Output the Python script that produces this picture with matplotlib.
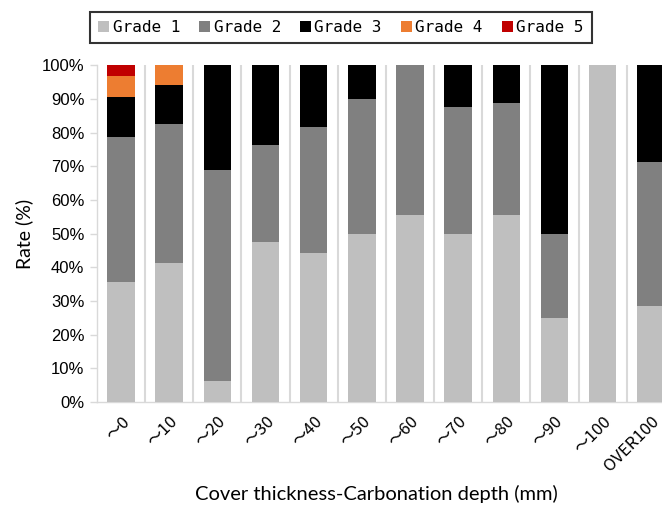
import matplotlib
matplotlib.use("Agg")
import matplotlib.pyplot as plt
from matplotlib.ticker import PercentFormatter, MultipleLocator
import numpy as np

# data (percent of each grade per cover-depth class)
categories = ["～0", "～10", "～20", "～30", "～40", "～50", "～60", "～70", "～80", "～90", "～100", "OVER100"]
grade1 = [35.7, 41.2, 6.25, 47.6, 44.4, 50.0, 55.6, 50.0, 55.6, 25.0, 100.0, 28.6]
grade2 = [42.9, 41.2, 62.5, 28.6, 37.1, 40.0, 44.4, 37.5, 33.3, 25.0, 0.0, 42.8]
grade3 = [11.9, 11.7, 31.25, 23.8, 18.5, 10.0, 0.0, 12.5, 11.1, 50.0, 0.0, 28.6]
grade4 = [6.3, 5.9, 0, 0, 0, 0, 0, 0, 0, 0, 0, 0]
grade5 = [3.2, 0, 0, 0, 0, 0, 0, 0, 0, 0, 0, 0]
grade_names = ["Grade 1", "Grade 2", "Grade 3", "Grade 4", "Grade 5"]
colors = ["#bfbfbf", "#808080", "#000000", "#ed7d31", "#c00000"]

fig = plt.figure(figsize=(6.62, 5.09), dpi=100)
ax = fig.add_axes([0.1465, 0.21, 0.873, 0.662])

x = np.arange(len(categories))
bottom = np.zeros(len(categories))
series = [grade1, grade2, grade3, grade4, grade5]
for vals, name, c in zip(series, grade_names, colors):
    ax.bar(x, vals, width=0.57, bottom=bottom, color=c, label=name, zorder=3)
    bottom += np.array(vals)

ax.set_xlim(-0.5, len(categories) - 0.5)
ax.set_ylim(0, 100)
ax.yaxis.set_major_locator(MultipleLocator(10))
ax.yaxis.set_major_formatter(PercentFormatter(decimals=0))

# separators between categories
ax.set_xticks(x + 0.5, minor=True)
ax.grid(True, which="minor", axis="x", color="#d9d9d9", lw=1.5, zorder=0)
ax.tick_params(axis="x", which="both", length=0)

ax.set_xticks(x)
ax.set_xticklabels(categories, rotation=45, ha="right", va="top", rotation_mode="anchor",
                   fontsize=12, family=["Noto Sans CJK JP", "DejaVu Sans"])
ax.tick_params(axis="x", pad=8)
for lab in ax.get_yticklabels():
    lab.set_family(["Liberation Sans Narrow", "Liberation Sans"])
    lab.set_fontsize(12)
ax.tick_params(axis="y", length=5, color="#d9d9d9", width=1, pad=4)

for s in ["top", "right"]:
    ax.spines[s].set_visible(False)
for s in ["left", "bottom"]:
    ax.spines[s].set_color("#d9d9d9")
    ax.spines[s].set_linewidth(1)

ax.set_ylabel("Rate (%)", fontsize=14, family="Lato", labelpad=6)
ax.set_xlabel("Cover thickness-Carbonation depth (mm)", fontsize=14.5, family="Lato")
ax.xaxis.set_label_coords(0.484, -0.245)

leg = fig.legend(loc="center", bbox_to_anchor=(0.515, 0.946), ncol=5,
                 prop={"family": "DejaVu Sans Mono", "size": 11.5},
                 frameon=True, fancybox=False, handlelength=0.7, handleheight=0.7,
                 handletextpad=0.2, columnspacing=1.2, borderpad=0.5)
leg.get_frame().set_edgecolor("black")
leg.get_frame().set_linewidth(1.5)

fig.savefig("out.png", dpi=100)
